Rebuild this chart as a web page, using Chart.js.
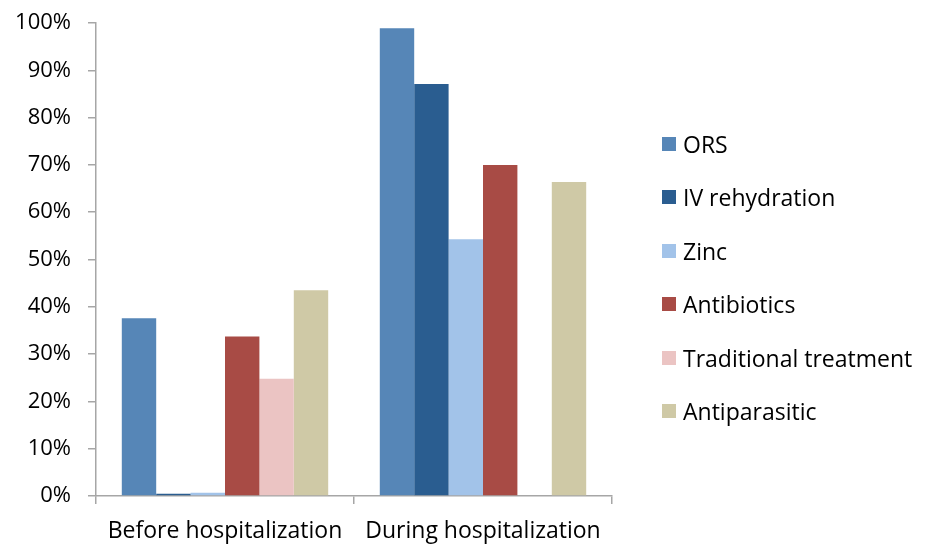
<!DOCTYPE html>
<html>
<head>
<meta charset="utf-8">
<script src="https://cdn.jsdelivr.net/npm/chart.js@4.4.1/dist/chart.umd.min.js"></script>
<style>
  body { margin: 0; background: #fff; }
  #wrap { position: relative; width: 928px; height: 544px; overflow: hidden; }
  #legend { position: absolute; left: 662px; top: 128px; margin: 0; padding: 0; list-style: none;
            font-family: "Open Sans", sans-serif; font-size: 23px; color: #000; }
  #legend li { height: 53.4px; display: flex; align-items: flex-start; white-space: nowrap; line-height: 32px; }
  #legend span.box { display: inline-block; width: 14px; height: 14px; margin: 9px 7px 0 0; }
</style>
</head>
<body>
<div id="wrap">
  <canvas id="myChart" width="928" height="544"></canvas>
  <ul id="legend"></ul>
</div>
<script>
const categories = ["Before hospitalization", "During hospitalization"];
const seriesNames = ["ORS", "IV rehydration", "Zinc", "Antibiotics", "Traditional treatment", "Antiparasitic"];
const colors = ["#5686b7", "#2a5d90", "#a2c3e9", "#a84b45", "#ebc4c3", "#cfc9a6"];

const ors = [37.6, 98.9];
const ivRehydration = [0.5, 87.1];
const zinc = [0.7, 54.3];
const antibiotics = [33.7, 70.0];
const traditional = [24.8, 0];
const antiparasitic = [43.5, 66.4];

const values = [ors, ivRehydration, zinc, antibiotics, traditional, antiparasitic];

const data = {
  labels: categories,
  datasets: seriesNames.map((name, i) => ({
    label: name,
    data: values[i],
    backgroundColor: colors[i],
    borderWidth: 0,
    categoryPercentage: 0.8,
    barPercentage: 1.0,
  })),
};

const axisColor = "#a6a6a6";
const tickFont = { family: "'Open Sans', sans-serif", size: 22 };
const catFont = { family: "'Open Sans', sans-serif", size: 23 };

const ctx = document.getElementById("myChart").getContext("2d");
const myChart = new Chart(ctx, {
  type: "bar",
  data: data,
  options: {
    responsive: false,
    animation: false,
    layout: { padding: { top: 23, right: 316, left: 0, bottom: 0 } },
    plugins: {
      legend: { display: false },
      tooltip: { enabled: false },
    },
    scales: {
      x: {
        grid: { drawOnChartArea: false, drawTicks: true, tickLength: 8, color: axisColor, lineWidth: 1.5, offset: true },
        border: { color: axisColor, width: 1.5 },
        ticks: { color: "#000", font: catFont, padding: 14, maxRotation: 0 },
        afterFit: (scale) => { scale.height = 48; },
      },
      y: {
        min: 0,
        max: 100,
        grid: { drawOnChartArea: false, drawTicks: true, tickLength: 8, color: axisColor, lineWidth: 1.5 },
        border: { color: axisColor, width: 1.5 },
        ticks: { stepSize: 10, color: "#000", font: tickFont, padding: 17, callback: (v) => v + "%" },
        afterFit: (scale) => { scale.width = 96; scale.paddingTop = 0; scale.paddingBottom = 0; },
      },
    },
  },
});

const legend = document.getElementById("legend");
seriesNames.forEach((name, i) => {
  const li = document.createElement("li");
  const box = document.createElement("span");
  box.className = "box";
  box.style.background = colors[i];
  li.appendChild(box);
  li.appendChild(document.createTextNode(name));
  legend.appendChild(li);
});
</script>
</body>
</html>
